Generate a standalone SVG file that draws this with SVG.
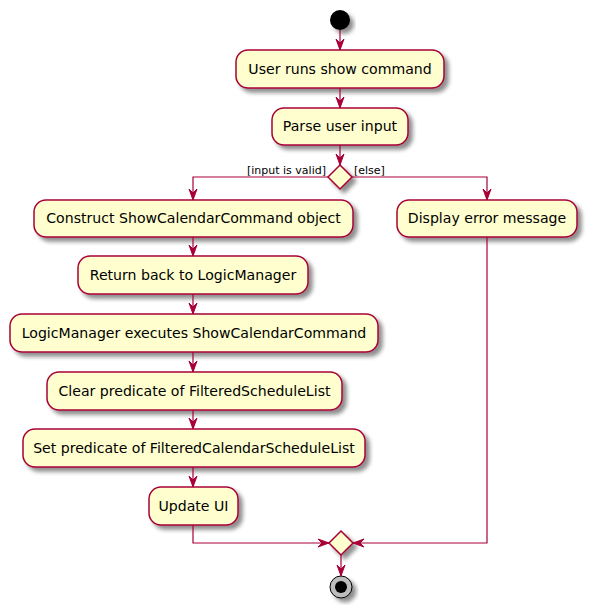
<svg xmlns="http://www.w3.org/2000/svg" width="593" height="613" viewBox="0 0 593 613">
<defs>
<filter id="sh" x="-20%" y="-20%" width="150%" height="150%">
<feGaussianBlur in="SourceAlpha" stdDeviation="2"/>
<feOffset dx="4" dy="4" result="b"/>
<feComponentTransfer><feFuncA type="linear" slope="0.45"/></feComponentTransfer>
<feMerge><feMergeNode/><feMergeNode in="SourceGraphic"/></feMerge>
</filter>
<marker id="ah" viewBox="0 0 12 10" refX="11" refY="5" markerWidth="12" markerHeight="10" markerUnits="userSpaceOnUse" orient="auto">
<polygon points="0,1 11,5 0,9 4,5" fill="#A80036" stroke="#A80036" stroke-width="1"/>
</marker>
</defs>
<style>
.box rect{fill:#FEFECE;stroke:#A80036;stroke-width:1.5;filter:url(#sh)}
.box text{font-family:"DejaVu Sans",sans-serif;font-size:14.1px;fill:#000;text-anchor:middle}
.dia polygon{fill:#FEFECE;stroke:#A80036;stroke-width:1.5;filter:url(#sh)}
.lbl{font-family:"DejaVu Sans",sans-serif;font-size:11px;fill:#000}
#connectors path{fill:none;stroke:#A80036;stroke-width:1.2;marker-end:url(#ah)}
</style>
<rect width="593" height="613" fill="#fff"/>
<g id="start"><circle cx="340" cy="20" r="10" fill="#000" filter="url(#sh)"/></g>
<g id="n1" class="box"><rect x="236" y="50" width="208" height="38" rx="12"/><text x="340" y="74">User runs show command</text></g>
<g id="n2" class="box"><rect x="272" y="108" width="136" height="37" rx="12"/><text x="340" y="131">Parse user input</text></g>
<g id="d1" class="dia"><polygon points="340,165 352,177 340,189 328,177"/></g>
<text class="lbl" x="326" y="174" text-anchor="end">[input is valid]</text>
<text class="lbl" x="354" y="174">[else]</text>
<g id="n3" class="box"><rect x="34" y="200" width="319" height="37" rx="12"/><text x="193.5" y="223">Construct ShowCalendarCommand object</text></g>
<g id="n4" class="box"><rect x="397" y="200" width="180" height="37" rx="12"/><text x="487" y="223">Display error message</text></g>
<g id="n5" class="box"><rect x="78" y="256" width="230" height="38" rx="12"/><text x="193" y="280">Return back to LogicManager</text></g>
<g id="n6" class="box"><rect x="10" y="314" width="368" height="38" rx="12"/><text x="194" y="338">LogicManager executes ShowCalendarCommand</text></g>
<g id="n7" class="box"><rect x="47" y="372" width="295" height="38" rx="12"/><text x="194.5" y="396">Clear predicate of FilteredScheduleList</text></g>
<g id="n8" class="box"><rect x="23" y="429" width="342" height="38" rx="12"/><text x="194" y="453">Set predicate of FilteredCalendarScheduleList</text></g>
<g id="n9" class="box"><rect x="149" y="487" width="89" height="38" rx="12"/><text x="193.5" y="511">Update UI</text></g>
<g id="d2" class="dia"><polygon points="341,531 353,543 341,555 329,543"/></g>
<g id="end"><circle cx="341" cy="587" r="11" fill="#bdbdbd" stroke="#000" stroke-width="1" filter="url(#sh)"/><circle cx="341" cy="587" r="6" fill="#000"/></g>
<g id="connectors">
<path d="M340,30 V50"/>
<path d="M340,88 V108"/>
<path d="M340,145 V165"/>
<path d="M328,177 H193 V200"/>
<path d="M352,177 H487 V200"/>
<path d="M193,237 V256"/>
<path d="M193,294 V314"/>
<path d="M193,352 V372"/>
<path d="M193,410 V429"/>
<path d="M193,467 V487"/>
<path d="M193,525 V543 H329"/>
<path d="M487,237 V543 H353"/>
<path d="M341,555 V576"/>
</g>
</svg>
